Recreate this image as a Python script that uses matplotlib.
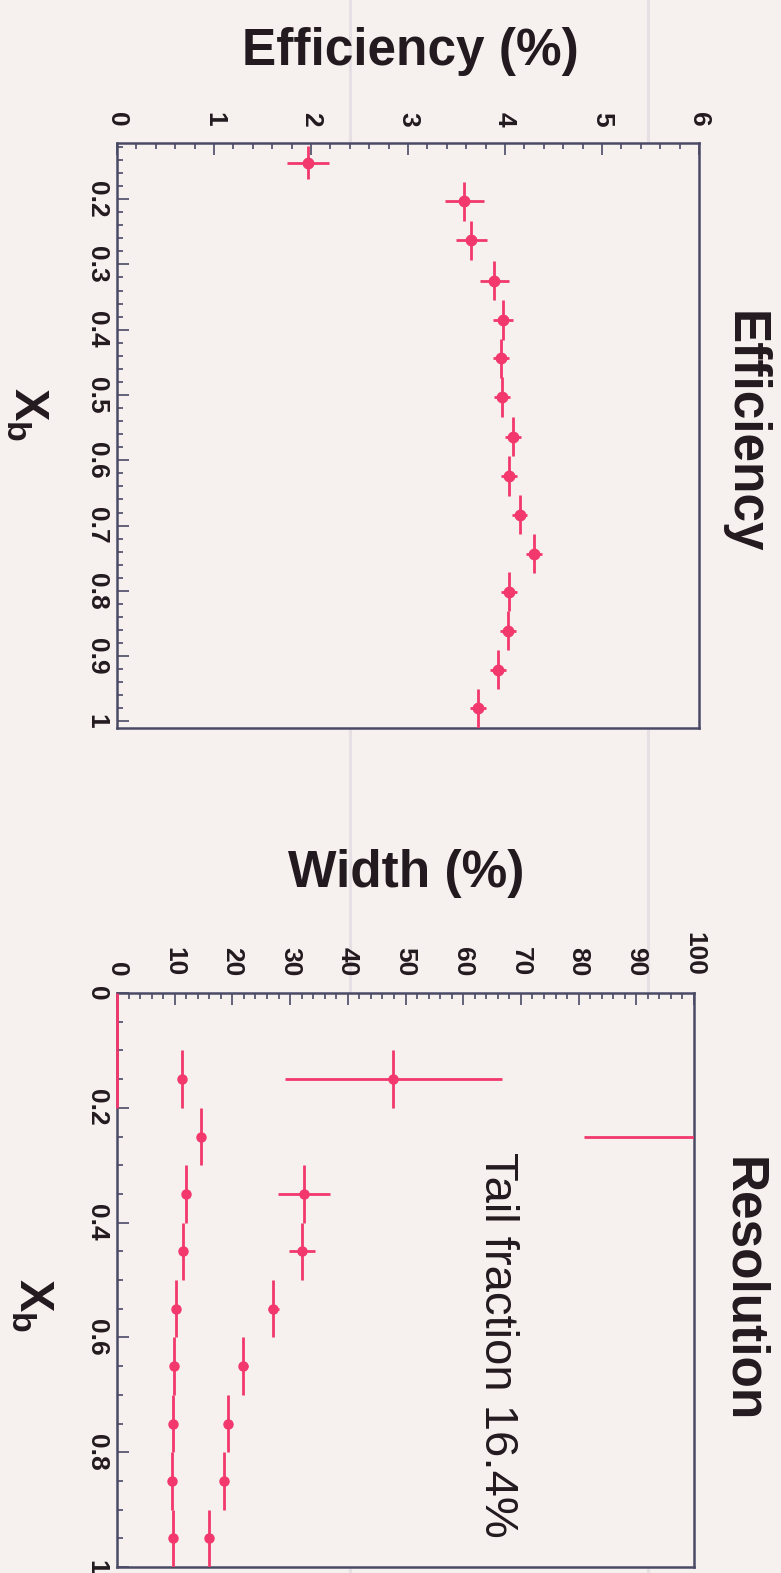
import matplotlib
matplotlib.use("Agg")
import matplotlib.pyplot as plt
from matplotlib.lines import Line2D
from matplotlib.ticker import FixedLocator, MultipleLocator, FuncFormatter

plt.rcParams["font.family"] = ["Liberation Sans", "DejaVu Sans"]
plt.rcParams["mathtext.fontset"] = "custom"
plt.rcParams["mathtext.bf"] = "Liberation Sans:bold"
plt.rcParams["mathtext.rm"] = "Liberation Sans"

# efficiency panel
xb_eff = [0.144, 0.203, 0.263, 0.325, 0.385, 0.444, 0.503, 0.564,
          0.624, 0.683, 0.743, 0.801, 0.861, 0.921, 0.980]
xb_eff_err = [0.025, 0.03, 0.03, 0.03, 0.03, 0.03, 0.03, 0.03,
              0.03, 0.03, 0.03, 0.03, 0.03, 0.03, 0.03]
eff = [1.97, 3.58, 3.65, 3.89, 3.98, 3.96, 3.97, 4.08,
       4.04, 4.15, 4.30, 4.04, 4.03, 3.93, 3.72]
eff_err = [0.22, 0.20, 0.16, 0.15, 0.10, 0.08, 0.08, 0.08,
           0.08, 0.08, 0.08, 0.08, 0.08, 0.08, 0.08]

# resolution panel
xb_res = [0.15, 0.25, 0.35, 0.45, 0.55, 0.65, 0.75, 0.85, 0.95]
core_width = [11.2, 14.6, 12.0, 11.4, 10.2, 9.9, 9.7, 9.6, 9.7]
core_err = [0.4, 0.5, 0.4, 0.3, 0.3, 0.3, 0.3, 0.3, 0.3]
tail_width = [47.9, 110.0, 32.4, 32.1, 27.1, 21.9, 19.3, 18.5, 16.0]
tail_err = [18.8, 29.0, 4.5, 2.3, 1.0, 0.8, 0.7, 0.6, 0.6]
empty_xb = [0.05, 0.15]
empty_width = [0.0, 0.0]
tail_fraction = 16.4

BG = "#f6f1ef"
RED = "#f2386c"
FRAME = "#4b4a66"
INK = "#231a20"
W, H = 781, 1573


def fig_xy(px, py):
    return px / W, 1 - py / H


def style_axes(ax, xmax, xmajor, xminor, ymajor, yminor, ylim):
    ax.set_facecolor(BG)
    for s in ax.spines.values():
        s.set_color(FRAME)
        s.set_linewidth(1.8)
    ax.set_xlim(0, xmax)
    ax.set_ylim(*ylim)
    ax.xaxis.tick_top()
    ax.xaxis.set_major_locator(MultipleLocator(xmajor))
    ax.xaxis.set_minor_locator(MultipleLocator(xminor))
    ax.yaxis.set_major_locator(FixedLocator(ymajor))
    ax.yaxis.set_minor_locator(MultipleLocator(yminor))
    fmt = FuncFormatter(lambda v, p: "%g" % round(v, 3))
    ax.xaxis.set_major_formatter(fmt)
    ax.yaxis.set_major_formatter(fmt)
    ax.tick_params(which="both", direction="in", color=FRAME, width=1.2,
                   top=True, bottom=False, left=True, right=False)
    ax.tick_params(which="major", length=8.5)
    ax.tick_params(which="minor", length=4)
    ax.tick_params(axis="x", pad=12)
    ax.tick_params(axis="y", pad=6)
    for lab in ax.get_xticklabels():
        lab.set_rotation(-90)
        lab.set_va("bottom")
        lab.set_ha("center")
        lab.set_fontsize(19)
        lab.set_fontweight("bold")
        lab.set_color(INK)
    for lab in ax.get_yticklabels():
        lab.set_rotation(-90)
        lab.set_va("center")
        lab.set_ha("right")
        lab.set_fontsize(19)
        lab.set_fontweight("bold")
        lab.set_color(INK)


fig = plt.figure(figsize=(W / 100, H / 100), dpi=100, facecolor=BG)

# faint scan fold lines
for fx in [350, 648]:
    fig.add_artist(Line2D([fx / W, fx / W], [0, 1], transform=fig.transFigure,
                          color="#e6e0e4", lw=2.2, zorder=0))

ax1 = fig.add_axes([117 / W, 1 - 728 / H, 582 / W, 585 / H])
ax1.errorbar(eff, xb_eff, xerr=eff_err, yerr=xb_eff_err, fmt="o", ms=7.5,
             color=RED, ecolor=RED, elinewidth=2.0, capsize=0, zorder=3)
style_axes(ax1, 6, 1, 0.2, [0.2, 0.3, 0.4, 0.5, 0.6, 0.7, 0.8, 0.9, 1.0],
           0.02, (1.01, 0.114))

ax2 = fig.add_axes([117 / W, 1 - 1567 / H, 577 / W, 574 / H])
ax2.errorbar(core_width, xb_res, xerr=core_err, yerr=0.05, fmt="o", ms=6.5,
             color=RED, ecolor=RED, elinewidth=2.0, capsize=0, zorder=3)
ax2.errorbar(tail_width, xb_res, xerr=tail_err, yerr=0.05, fmt="o", ms=6.5,
             color=RED, ecolor=RED, elinewidth=2.0, capsize=0, zorder=3)
ax2.errorbar(empty_width, empty_xb, yerr=0.05, fmt="none", ecolor=RED,
             elinewidth=2.0, capsize=0, zorder=4, clip_on=False)
style_axes(ax2, 100, 10, 2, [0, 0.2, 0.4, 0.6, 0.8, 1.0], 0.05, (1.0, 0.0))

# labels and titles
fig.text(*fig_xy(410, 52), "Efficiency (%)", fontsize=37, fontweight="bold",
         color=INK, ha="center", va="center")
fig.text(*fig_xy(744, 432), "Efficiency", fontsize=37, fontweight="bold",
         color=INK, ha="center", va="center", rotation=-90)
fig.text(*fig_xy(27, 414), r"$\mathbf{X}_{\mathbf{b}}$", fontsize=35,
         color=INK, ha="center", va="center", rotation=-90)

fig.text(*fig_xy(406, 874), "Width (%)", fontsize=37, fontweight="bold",
         color=INK, ha="center", va="center")
fig.text(*fig_xy(743, 1290), "Resolution", fontsize=37, fontweight="bold",
         color=INK, ha="center", va="center", rotation=-90)
fig.text(*fig_xy(497, 1345), "Tail fraction %.1f%%" % tail_fraction,
         fontsize=34, color=INK, ha="center", va="center", rotation=-90)
fig.text(*fig_xy(32, 1305), r"$\mathbf{X}_{\mathbf{b}}$", fontsize=35,
         color=INK, ha="center", va="center", rotation=-90)

fig.savefig("out.png", dpi=100, facecolor=BG)
